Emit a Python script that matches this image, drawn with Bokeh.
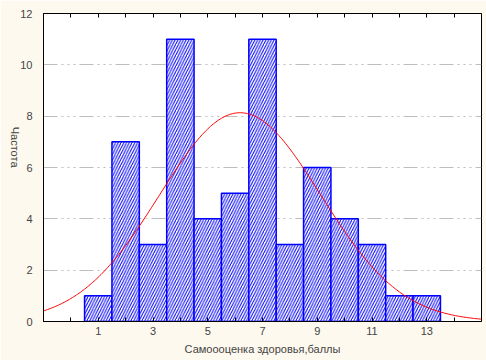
import math
from bokeh.plotting import figure
from bokeh.models import ColumnDataSource, LinearAxis, FixedTicker, Range1d
from bokeh.embed import file_html
from bokeh.resources import INLINE

# data
scores = [1, 2, 3, 4, 5, 6, 7, 8, 9, 10, 11, 12, 13]
counts = [1, 7, 3, 11, 4, 5, 11, 3, 6, 4, 3, 1, 1]
x_label_ticks = [1, 3, 5, 7, 9, 11, 13]
x_minor_ticks = [0, 2, 4, 6, 8, 10, 12, 14]
all_x_ticks = list(range(0, 15))
y_ticks = [0, 2, 4, 6, 8, 10, 12]
grid_ticks = [2, 4, 6, 8, 10]
x_label = "Самоооценка здоровья,баллы"
y_label = "Частота"

FONT = "Liberation Sans"
BG = "#FDF9EE"

# fitted normal curve from the data
n = sum(counts)
mean = sum(s * c for s, c in zip(scores, counts)) / n
var = sum(c * (s - mean) ** 2 for s, c in zip(scores, counts)) / (n - 1)
sd = math.sqrt(var)
cx = [-1 + i * 0.05 for i in range(321)]
cy = [n * math.exp(-0.5 * ((v - mean) / sd) ** 2) / (sd * math.sqrt(2 * math.pi)) for v in cx]

p = figure(width=486, height=360, output_backend="svg", toolbar_location=None,
           x_range=Range1d(-1, 15), y_range=Range1d(0, 12),
           min_border_left=41, min_border_right=5, min_border_top=13, min_border_bottom=39)
p.background_fill_color = "white"
p.border_fill_color = BG
p.outline_line_color = "black"
p.outline_line_width = 1

src = ColumnDataSource(dict(x=scores, top=counts))
p.vbar(x="x", top="top", bottom=0, width=1.0, source=src,
       fill_color="white", line_color="#0000FF", line_width=1.5,
       hatch_pattern="/", hatch_color="#0000FF", hatch_scale=5.5, hatch_weight=1)
p.line(cx, cy, line_color="#FF0000", line_width=1)

# grid
p.xgrid.visible = False
p.ygrid.ticker = FixedTicker(ticks=grid_ticks)
p.ygrid.grid_line_color = "#BDBDBD"
p.ygrid.grid_line_dash = "14 4 2 4 2 4 2 4"
p.ygrid.grid_line_width = 1

# x axis
xa = p.xaxis[0]
xa.ticker = FixedTicker(ticks=x_label_ticks, minor_ticks=x_minor_ticks)
xa.major_tick_in = 4
xa.major_tick_out = 0
xa.minor_tick_in = 4
xa.minor_tick_out = 0
xa.axis_line_color = "black"
xa.major_tick_line_color = "black"
xa.minor_tick_line_color = "black"
xa.major_label_text_font = FONT
xa.major_label_text_font_size = "11px"
xa.major_label_standoff = 5
xa.axis_label = x_label
xa.axis_label_text_font = FONT
xa.axis_label_text_font_size = "11px"
xa.axis_label_text_font_style = "normal"
xa.axis_label_standoff = 5

# y axis
ya = p.yaxis[0]
ya.ticker = FixedTicker(ticks=y_ticks)
ya.major_tick_line_color = None
ya.minor_tick_line_color = None
ya.axis_line_color = "black"
ya.major_label_text_font = FONT
ya.major_label_text_font_size = "11px"
ya.major_label_standoff = 5
ya.axis_label = y_label
ya.axis_label_text_font = FONT
ya.axis_label_text_font_size = "11px"
ya.axis_label_text_font_style = "normal"
ya.axis_label_standoff = 2
if "axis_label_orientation" in ya.properties():
    ya.axis_label_orientation = -math.pi / 2

# top axis with inward ticks only
top = LinearAxis(ticker=FixedTicker(ticks=[], minor_ticks=all_x_ticks),
                 major_tick_in=0, major_tick_out=0,
                 minor_tick_in=4, minor_tick_out=0, minor_tick_line_color="black",
                 major_label_standoff=0, axis_line_color="black")
p.add_layout(top, "above")

open("out.html", "w").write(file_html(p, INLINE))
